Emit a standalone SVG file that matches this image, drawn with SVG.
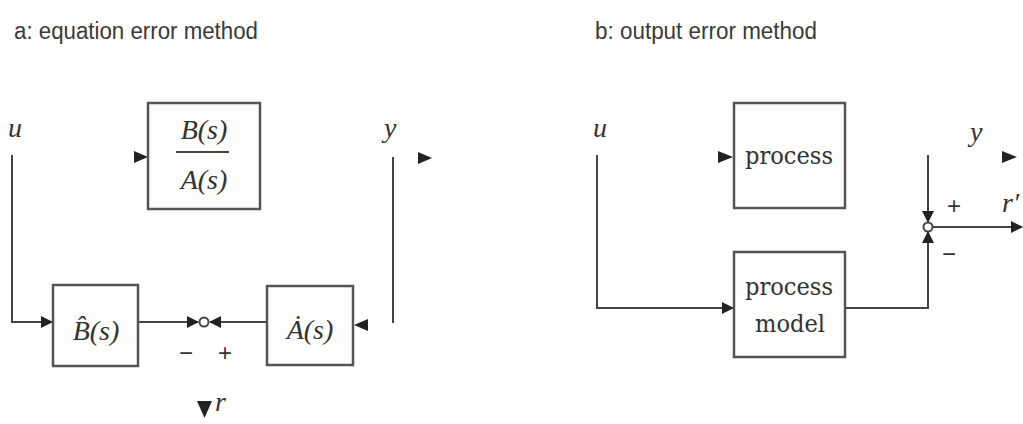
<svg xmlns="http://www.w3.org/2000/svg" width="1023" height="424" viewBox="0 0 1023 424">
<style>
.title{font-family:"Liberation Sans",Arial,sans-serif;font-size:23px;fill:#3a3a3a}
.box{fill:#fdfdfb;stroke:#555;stroke-width:2.5}
.wire{fill:none;stroke:#444;stroke-width:2}
.tri{fill:#222}
.lbl{font-family:"DejaVu Serif","Liberation Serif",serif;font-size:25px;fill:#333}
.it{font-family:"Liberation Serif","DejaVu Serif",serif;font-style:italic;font-size:28px;fill:#333}
.sym{font-family:"Liberation Sans",Arial,sans-serif;font-size:24px;fill:#333}
.sum{fill:#fff;stroke:#444;stroke-width:2}
</style>
<defs>
<marker id="ah" markerWidth="12" markerHeight="12" refX="11" refY="6" orient="auto" markerUnits="userSpaceOnUse">
<path d="M0,0 L12,6 L0,12 Z" fill="#222"/>
</marker>
</defs>
<rect width="1023" height="424" fill="#fff"/>
<text class="title" x="14" y="39" textLength="244" lengthAdjust="spacingAndGlyphs">a: equation error method</text>
<text class="title" x="595" y="39" textLength="222" lengthAdjust="spacingAndGlyphs">b: output error method</text>

<g id="connectors">
<path class="wire" d="M12,155 V322 H52" marker-end="url(#ah)"/>
<path class="wire" d="M138,322 H198" marker-end="url(#ah)"/>
<path class="wire" d="M267,322 H210" marker-end="url(#ah)"/>
<path class="wire" d="M393,157 V323"/>
<path class="tri" d="M134,151 L148,157 L134,163 Z"/>
<path class="tri" d="M368,319 L354,325 L368,331 Z"/>
<path class="tri" d="M418,152 L432,158 L418,164 Z"/>
<path class="tri" d="M197,401 L212,401 L204.5,418 Z"/>
<path class="wire" d="M597,155 V308 H733" marker-end="url(#ah)"/>
<path class="wire" d="M845,308 H928 V232" marker-end="url(#ah)"/>
<path class="wire" d="M928,155 V222" marker-end="url(#ah)"/>
<path class="wire" d="M933,227 H1022" marker-end="url(#ah)"/>
<path class="tri" d="M718,151 L733,157 L718,163 Z"/>
<path class="tri" d="M1002,151 L1017,157 L1002,163 Z"/>
</g>

<g id="u-left"><text class="it" x="8" y="137">u</text></g>
<g id="y-left"><text class="it" x="384" y="137">y</text></g>

<g id="BA">
<rect class="box" x="148" y="103" width="112" height="106"/>
<text class="it" x="204" y="139" text-anchor="middle" font-size="25">B(s)</text>
<line x1="176" y1="152" x2="229" y2="152" stroke="#444" stroke-width="2"/>
<text class="it" x="204" y="189" text-anchor="middle" font-size="25">A(s)</text>
</g>

<g id="Bhat">
<rect class="box" x="53" y="285" width="85" height="81"/>
<text class="it" x="96" y="340" text-anchor="middle" font-size="25">B̂(s)</text>
</g>

<g id="Ahat">
<rect class="box" x="267" y="286" width="86" height="79"/>
<text class="it" x="310" y="339" text-anchor="middle" font-size="25">Ȧ(s)</text>
</g>

<g id="sum-left">
<circle class="sum" cx="204" cy="322" r="4.5"/>
<text class="sym" x="186" y="361" text-anchor="middle">−</text>
<text class="sym" x="225" y="361" text-anchor="middle">+</text>
<text class="it" x="215" y="411" font-size="22">r</text>
</g>

<g id="u-right"><text class="it" x="593" y="137">u</text></g>
<g id="y-right"><text class="it" x="970" y="141">y</text></g>

<g id="process">
<rect class="box" x="734" y="103" width="111" height="105"/>
<text class="lbl" x="789" y="164" text-anchor="middle" textLength="88" lengthAdjust="spacingAndGlyphs">process</text>
</g>

<g id="process-model">
<rect class="box" x="734" y="252" width="111" height="105"/>
<text class="lbl" x="789" y="295" text-anchor="middle" textLength="88" lengthAdjust="spacingAndGlyphs">process</text>
<text class="lbl" x="790" y="332" text-anchor="middle" textLength="70" lengthAdjust="spacingAndGlyphs">model</text>
</g>

<g id="sum-right">
<circle class="sum" cx="928" cy="227" r="4.5"/>
<text class="sym" x="954" y="214" text-anchor="middle">+</text>
<text class="sym" x="949" y="262" text-anchor="middle">−</text>
<text class="it" x="1002" y="212" font-size="26">r′</text>
</g>
</svg>
